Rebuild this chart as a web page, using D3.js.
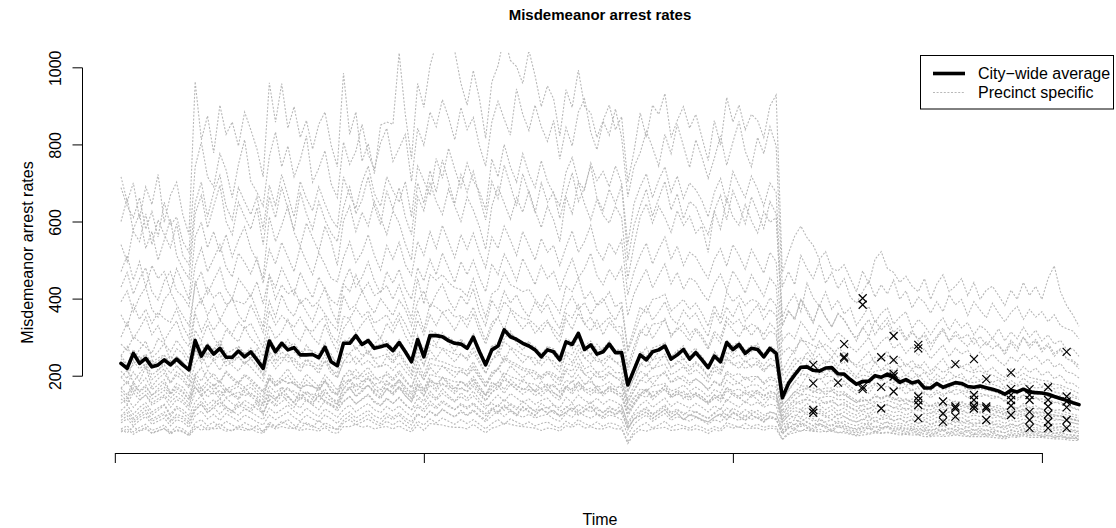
<!DOCTYPE html>
<html>
<head>
<meta charset="utf-8">
<script src="https://cdn.jsdelivr.net/npm/d3@7"></script>
<style>
  html, body { margin: 0; padding: 0; background: #ffffff; }
  svg { display: block; }
  text { font-family: "Liberation Sans", Arial, Helvetica, sans-serif; }
</style>
</head>
<body>
<svg id="chart" width="1116" height="528"></svg>
<script>
// Monthly misdemeanor arrest rates, Jan 2006 - Dec 2018 (one row per year)
const cityAverage = [
  232, 219, 258, 232, 245, 223, 228, 241, 228, 243, 228, 215,
  291, 251, 277, 256, 271, 248, 248, 264, 249, 262, 241, 219,
  290, 262, 284, 267, 273, 254, 254, 255, 247, 274, 236, 226,
  284, 284, 304, 281, 291, 271, 275, 280, 265, 286, 262, 236,
  294, 249, 304, 304, 301, 291, 284, 282, 271, 300, 262, 228,
  267, 277, 319, 301, 294, 284, 277, 267, 249, 267, 262, 241,
  288, 281, 310, 268, 280, 256, 262, 282, 260, 260, 176, 215,
  254, 241, 262, 267, 277, 243, 254, 268, 243, 260, 241, 221,
  251, 236, 286, 268, 281, 258, 271, 268, 249, 271, 258, 143,
  180, 202, 222, 223, 214, 212, 220, 221, 205, 204, 190, 178,
  185, 186, 200, 196, 204, 196, 183, 190, 181, 186, 168, 168,
  180, 170, 176, 182, 180, 172, 170, 173, 169, 165, 160, 152,
  162, 158, 165, 158, 156, 155, 152, 146, 141, 136, 130, 125
];

const precinct01 = [
  716, 652, 700, 608, 690, 644, 722, 598, 668, 702, 618, 566,
  963, 812, 874, 778, 902, 826, 858, 796, 884, 838, 788, 716,
  960, 858, 958, 842, 898, 818, 862, 788, 852, 884, 798, 742,
  985, 826, 884, 756, 802, 724, 850, 858, 852, 1037, 878, 762,
  958, 896, 1004, 1062, 1094, 1118, 1042, 958, 902, 992, 918, 816,
  962, 1004, 1082, 1018, 1002, 958, 1044, 978, 898, 952, 918, 822,
  942, 896, 993, 898, 882, 818, 862, 902, 838, 872, 702, 782,
  882, 818, 902, 878, 932, 818, 862, 898, 842, 878, 818, 758,
  862, 798, 922, 858, 902, 838, 878, 862, 818, 900, 928, 468,
  518, 562, 588, 558, 538, 502, 522, 478, 472, 488, 452, 418,
  472, 438, 502, 522, 478, 468, 442, 458, 432, 418, 452, 398,
  438, 462, 418, 432, 452, 408, 442, 398, 422, 432, 408, 382,
  422, 398, 442, 408, 432, 398, 452, 485, 418, 382, 358, 328
];
const precinct02 = [
  688, 640, 610, 662, 580, 626, 560, 650, 590, 612, 548, 520,
  742, 806, 716, 690, 776, 734, 662, 748, 812, 704, 676, 640,
  768, 832, 742, 796, 716, 760, 822, 702, 738, 784, 698, 662,
  806, 748, 782, 852, 774, 736, 804, 842, 756, 790, 826, 704,
  842, 798, 884, 846, 916, 870, 812, 896, 838, 870, 796, 744,
  858, 912, 866, 824, 944, 878, 836, 902, 846, 808, 862, 762,
  844, 796, 884, 918, 832, 786, 860, 824, 892, 818, 664, 742,
  778, 834, 792, 744, 826, 776, 852, 796, 740, 812, 766, 712,
  764, 822, 746, 806, 860, 782, 742, 818, 776, 846, 796, 430,
  470, 436, 512, 478, 452, 496, 440, 468, 426, 452, 404, 388,
  418, 446, 404, 436, 412, 448, 398, 420, 376, 404, 390, 362,
  392, 366, 410, 384, 398, 356, 392, 370, 350, 388, 362, 340,
  364, 380, 346, 372, 352, 366, 340, 358, 330, 322, 316, 296
];
const precinct03 = [
  600, 660, 574, 548, 620, 540, 604, 566, 532, 594, 512, 488,
  648, 702, 612, 676, 720, 640, 604, 688, 652, 618, 664, 580,
  694, 640, 722, 668, 612, 704, 660, 628, 690, 646, 608, 584,
  716, 668, 634, 702, 744, 672, 640, 716, 680, 650, 704, 612,
  744, 706, 668, 764, 712, 790, 736, 688, 752, 706, 678, 630,
  762, 716, 800, 742, 702, 776, 724, 688, 758, 704, 672, 640,
  728, 766, 704, 682, 752, 706, 730, 690, 744, 700, 540, 646,
  690, 724, 662, 708, 742, 676, 718, 660, 700, 682, 654, 612,
  676, 712, 648, 730, 694, 662, 718, 684, 640, 700, 676, 352,
  388, 412, 366, 440, 402, 380, 418, 372, 396, 360, 376, 330,
  354, 380, 338, 362, 376, 334, 352, 366, 322, 346, 330, 306,
  332, 350, 318, 346, 324, 338, 306, 330, 318, 296, 322, 290,
  314, 296, 326, 300, 318, 290, 306, 282, 292, 268, 270, 250
];
const precinct04 = [
  470, 512, 448, 496, 430, 486, 452, 470, 420, 478, 440, 398,
  560, 598, 532, 574, 520, 566, 508, 552, 586, 530, 498, 452,
  612, 548, 590, 640, 572, 536, 596, 558, 522, 588, 548, 486,
  602, 640, 574, 624, 588, 652, 610, 566, 628, 596, 542, 500,
  664, 628, 702, 652, 618, 684, 640, 600, 664, 630, 586, 528,
  640, 690, 648, 606, 662, 624, 680, 628, 584, 640, 604, 548,
  664, 620, 702, 646, 604, 658, 616, 596, 640, 610, 452, 538,
  612, 646, 596, 640, 610, 572, 628, 590, 614, 570, 588, 520,
  628, 580, 660, 612, 590, 644, 602, 570, 626, 598, 610, 330,
  366, 348, 398, 372, 340, 384, 352, 328, 360, 346, 318, 290,
  326, 302, 344, 318, 336, 300, 318, 290, 312, 296, 304, 268,
  298, 318, 288, 306, 290, 276, 300, 272, 288, 270, 282, 254,
  286, 264, 300, 272, 290, 262, 278, 250, 268, 244, 236, 218
];
const precinct05 = [
  430, 468, 412, 452, 480, 418, 396, 446, 470, 420, 406, 380,
  486, 532, 470, 504, 540, 482, 456, 518, 494, 464, 506, 440,
  528, 490, 546, 508, 470, 534, 496, 462, 520, 488, 452, 444,
  506, 548, 494, 520, 566, 512, 474, 538, 502, 546, 488, 460,
  548, 512, 574, 530, 590, 548, 506, 566, 528, 570, 520, 480,
  560, 530, 588, 552, 512, 574, 538, 500, 556, 520, 538, 486,
  534, 576, 520, 548, 590, 526, 500, 544, 516, 552, 410, 470,
  512, 544, 490, 528, 560, 502, 536, 486, 520, 508, 478, 452,
  502, 530, 484, 540, 512, 476, 528, 498, 466, 520, 496, 290,
  312, 296, 340, 318, 290, 332, 306, 286, 312, 298, 274, 262,
  280, 300, 266, 288, 302, 270, 284, 258, 276, 252, 270, 244,
  262, 280, 250, 272, 256, 266, 244, 262, 240, 256, 238, 226,
  250, 236, 258, 240, 252, 230, 244, 222, 232, 210, 206, 194
];
const precinct06 = [
  392, 420, 366, 404, 430, 372, 352, 398, 418, 384, 356, 330,
  436, 470, 412, 448, 480, 424, 400, 452, 430, 406, 444, 386,
  462, 428, 480, 446, 410, 468, 432, 402, 456, 424, 396, 384,
  442, 478, 430, 456, 496, 446, 414, 470, 440, 476, 426, 398,
  480, 446, 502, 462, 518, 480, 442, 496, 462, 500, 454, 418,
  490, 462, 516, 484, 446, 504, 470, 436, 486, 452, 470, 424,
  466, 504, 454, 478, 518, 460, 436, 476, 450, 482, 356, 412,
  446, 476, 428, 460, 490, 438, 468, 424, 454, 444, 416, 394,
  438, 464, 422, 472, 446, 414, 462, 434, 406, 454, 432, 256,
  274, 258, 298, 278, 252, 290, 266, 248, 272, 260, 238, 228,
  244, 262, 232, 250, 264, 236, 248, 224, 240, 218, 236, 212,
  228, 244, 218, 238, 222, 232, 212, 228, 208, 222, 206, 196,
  218, 204, 224, 208, 220, 200, 212, 192, 202, 182, 180, 168
];
const precinct07 = [
  540, 496, 580, 620, 530, 574, 500, 552, 606, 512, 478, 452,
  620, 668, 584, 640, 694, 600, 566, 650, 612, 580, 636, 540,
  664, 610, 690, 632, 578, 676, 620, 580, 652, 604, 570, 548,
  636, 690, 620, 656, 716, 640, 592, 680, 632, 688, 612, 566,
  700, 648, 732, 676, 760, 702, 646, 722, 676, 730, 664, 604,
  704, 660, 746, 694, 640, 724, 674, 622, 700, 650, 676, 608,
  672, 726, 652, 688, 744, 662, 628, 684, 646, 694, 500, 590,
  640, 684, 614, 660, 704, 630, 672, 608, 652, 638, 598, 566,
  628, 668, 604, 680, 640, 594, 664, 624, 582, 652, 620, 330,
  370, 344, 398, 364, 336, 384, 352, 326, 362, 344, 316, 298,
  324, 346, 306, 332, 350, 312, 328, 296, 318, 290, 312, 282,
  302, 324, 290, 316, 296, 308, 282, 302, 278, 298, 276, 262,
  292, 274, 300, 280, 294, 268, 284, 258, 270, 244, 240, 226
];
const precinct08 = [
  358, 326, 384, 346, 372, 336, 364, 348, 338, 374, 328, 298,
  446, 388, 428, 402, 418, 384, 396, 392, 386, 412, 368, 326,
  462, 398, 436, 412, 424, 388, 402, 378, 394, 428, 372, 338,
  438, 418, 462, 418, 442, 408, 418, 434, 398, 436, 392, 348,
  452, 386, 462, 448, 462, 442, 428, 424, 406, 452, 398, 352,
  412, 424, 468, 436, 428, 418, 424, 398, 378, 412, 388, 362,
  432, 418, 454, 398, 418, 382, 392, 418, 378, 392, 268, 322,
  378, 362, 398, 402, 412, 368, 382, 398, 372, 388, 362, 328,
  382, 348, 418, 392, 408, 382, 398, 392, 368, 402, 382, 212,
  242, 268, 292, 288, 278, 272, 282, 268, 248, 262, 238, 222,
  228, 232, 248, 242, 252, 238, 222, 232, 218, 228, 212, 202,
  222, 208, 218, 228, 222, 212, 208, 212, 204, 202, 194, 186,
  202, 194, 206, 196, 192, 188, 186, 178, 176, 168, 162, 154
];
const precinct09 = [
  300, 338, 296, 322, 352, 306, 330, 290, 318, 342, 296, 276,
  372, 400, 356, 386, 344, 376, 402, 358, 338, 384, 350, 312,
  394, 352, 410, 372, 354, 396, 366, 340, 384, 360, 336, 318,
  408, 372, 384, 420, 386, 362, 400, 378, 356, 396, 372, 330,
  392, 420, 376, 412, 438, 396, 370, 408, 384, 426, 364, 330,
  396, 368, 420, 388, 410, 374, 352, 392, 364, 386, 348, 322,
  380, 406, 372, 390, 358, 384, 402, 366, 344, 380, 262, 306,
  352, 380, 344, 366, 392, 350, 334, 370, 348, 362, 330, 302,
  366, 334, 378, 352, 388, 342, 364, 384, 346, 372, 356, 200,
  218, 246, 232, 262, 240, 256, 230, 248, 226, 236, 214, 198,
  222, 206, 236, 214, 232, 210, 224, 200, 216, 196, 210, 186,
  204, 190, 212, 196, 206, 184, 200, 188, 196, 182, 190, 170,
  188, 176, 194, 180, 186, 172, 180, 166, 170, 156, 150, 142
];
const precinct10 = [
  282, 266, 302, 288, 274, 258, 296, 284, 262, 292, 270, 244,
  362, 314, 348, 318, 344, 326, 308, 340, 322, 336, 304, 272,
  368, 332, 356, 340, 326, 352, 322, 314, 338, 354, 306, 286,
  354, 348, 376, 352, 368, 336, 346, 358, 330, 362, 334, 298,
  370, 318, 386, 378, 364, 372, 352, 356, 344, 378, 332, 292,
  338, 352, 392, 374, 360, 348, 346, 332, 314, 338, 322, 302,
  362, 350, 384, 334, 352, 322, 336, 352, 326, 328, 226, 276,
  318, 302, 334, 336, 344, 306, 318, 336, 306, 324, 304, 274,
  316, 298, 352, 334, 346, 318, 334, 326, 306, 336, 318, 176,
  206, 228, 246, 244, 236, 226, 238, 236, 218, 216, 206, 192,
  202, 198, 212, 214, 218, 202, 194, 202, 192, 204, 184, 178,
  192, 184, 188, 198, 194, 184, 182, 186, 178, 178, 172, 164,
  178, 172, 180, 172, 168, 170, 162, 158, 154, 148, 144, 138
];
const precinct11 = [
  252, 276, 240, 268, 290, 246, 262, 284, 238, 270, 258, 228,
  318, 290, 332, 298, 276, 320, 302, 288, 326, 296, 280, 250,
  330, 296, 314, 346, 308, 290, 326, 300, 282, 334, 294, 262,
  322, 346, 310, 334, 354, 318, 296, 336, 312, 346, 304, 276,
  344, 306, 358, 330, 364, 342, 318, 350, 326, 362, 316, 282,
  326, 352, 318, 370, 344, 322, 340, 310, 330, 344, 308, 286,
  348, 320, 362, 334, 316, 344, 306, 338, 320, 302, 214, 262,
  310, 334, 296, 322, 348, 300, 326, 312, 290, 318, 296, 268,
  306, 284, 340, 318, 300, 330, 304, 326, 292, 316, 306, 166,
  188, 214, 204, 232, 210, 222, 200, 218, 196, 206, 188, 176,
  192, 176, 204, 186, 198, 182, 192, 174, 186, 170, 180, 162,
  176, 166, 182, 170, 178, 160, 174, 164, 170, 158, 164, 150,
  164, 152, 168, 156, 162, 150, 156, 146, 148, 138, 132, 126
];
const precinct12 = [
  244, 226, 262, 240, 254, 230, 238, 252, 230, 250, 236, 214,
  296, 262, 284, 266, 282, 258, 266, 276, 256, 272, 250, 226,
  300, 270, 290, 276, 284, 262, 268, 264, 256, 286, 248, 236,
  292, 290, 310, 284, 298, 276, 282, 290, 270, 294, 268, 244,
  306, 258, 318, 310, 304, 300, 288, 290, 278, 310, 270, 236,
  274, 286, 326, 310, 298, 288, 282, 276, 256, 276, 270, 250,
  296, 288, 316, 278, 290, 266, 272, 288, 266, 268, 186, 224,
  262, 250, 272, 278, 284, 250, 262, 278, 250, 266, 250, 226,
  262, 244, 292, 278, 288, 266, 278, 276, 256, 278, 266, 148,
  180, 200, 218, 220, 210, 204, 214, 212, 198, 198, 186, 174,
  180, 180, 194, 190, 198, 188, 176, 184, 174, 182, 164, 162,
  174, 164, 168, 180, 174, 166, 162, 168, 162, 160, 154, 146,
  160, 154, 162, 154, 152, 152, 146, 142, 138, 132, 128, 122
];
const precinct13 = [
  236, 212, 228, 250, 220, 242, 214, 234, 252, 226, 210, 196,
  262, 284, 248, 270, 292, 254, 240, 276, 258, 244, 270, 220,
  284, 252, 272, 294, 262, 246, 280, 258, 240, 272, 256, 226,
  276, 300, 266, 288, 256, 282, 300, 268, 250, 284, 262, 234,
  292, 270, 304, 280, 312, 286, 262, 296, 274, 300, 258, 230,
  280, 262, 296, 316, 284, 266, 290, 262, 248, 276, 254, 236,
  290, 270, 300, 276, 254, 282, 264, 290, 262, 248, 178, 214,
  250, 274, 240, 262, 286, 248, 266, 242, 258, 272, 236, 216,
  262, 238, 280, 256, 274, 248, 262, 284, 246, 264, 252, 140,
  160, 184, 174, 200, 184, 194, 176, 190, 168, 180, 164, 152,
  170, 154, 178, 164, 174, 160, 170, 152, 166, 150, 158, 142,
  156, 146, 162, 150, 158, 142, 152, 146, 150, 140, 146, 132,
  146, 136, 150, 140, 144, 132, 140, 130, 132, 122, 118, 112
];
const precinct14 = [
  212, 192, 238, 218, 232, 202, 214, 228, 206, 226, 210, 188,
  268, 232, 256, 238, 252, 226, 234, 248, 230, 246, 222, 200,
  264, 238, 262, 248, 246, 228, 242, 236, 224, 254, 216, 206,
  256, 258, 276, 252, 264, 244, 250, 256, 238, 262, 236, 214,
  268, 226, 282, 274, 272, 264, 256, 254, 246, 274, 240, 206,
  242, 252, 288, 274, 266, 254, 248, 246, 226, 244, 238, 222,
  262, 254, 282, 246, 256, 236, 240, 254, 234, 236, 158, 196,
  232, 222, 242, 246, 252, 222, 232, 246, 222, 236, 222, 198,
  228, 216, 262, 246, 254, 234, 246, 244, 226, 246, 236, 132,
  164, 184, 202, 204, 196, 190, 198, 198, 186, 186, 172, 160,
  166, 168, 182, 176, 184, 176, 166, 172, 162, 168, 152, 150,
  162, 152, 156, 164, 162, 156, 152, 154, 150, 148, 144, 136,
  146, 142, 150, 142, 140, 140, 136, 132, 126, 122, 116, 110
];
const precinct15 = [
  196, 214, 184, 206, 226, 190, 204, 218, 182, 210, 198, 172,
  232, 256, 220, 240, 214, 246, 226, 212, 238, 222, 204, 186,
  244, 218, 236, 258, 228, 210, 242, 224, 206, 240, 218, 194,
  236, 258, 230, 246, 264, 238, 222, 250, 232, 256, 228, 204,
  252, 228, 266, 244, 270, 252, 236, 258, 240, 262, 232, 206,
  240, 264, 236, 272, 252, 234, 250, 228, 242, 252, 226, 210,
  256, 234, 266, 246, 232, 252, 226, 248, 236, 222, 160, 192,
  228, 246, 216, 236, 256, 220, 238, 228, 212, 232, 218, 196,
  224, 208, 248, 232, 218, 240, 222, 238, 214, 230, 224, 124,
  140, 160, 150, 172, 156, 166, 150, 164, 146, 154, 140, 130,
  144, 130, 152, 138, 148, 136, 144, 128, 140, 126, 134, 120,
  132, 124, 138, 128, 134, 120, 130, 124, 128, 118, 124, 112,
  124, 114, 128, 118, 122, 112, 118, 110, 112, 104, 100, 96
];
const precinct16 = [
  252, 228, 268, 244, 256, 234, 246, 254, 232, 250, 236, 214,
  272, 240, 262, 244, 256, 236, 240, 250, 232, 244, 226, 204,
  256, 232, 250, 236, 240, 222, 228, 226, 216, 238, 206, 196,
  236, 234, 250, 228, 240, 222, 224, 230, 214, 234, 212, 194,
  236, 200, 246, 240, 236, 230, 222, 220, 212, 236, 206, 180,
  206, 214, 244, 232, 224, 214, 210, 206, 190, 206, 200, 186,
  218, 212, 234, 204, 212, 196, 198, 210, 194, 194, 132, 162,
  190, 182, 198, 200, 206, 182, 190, 200, 182, 192, 180, 164,
  186, 176, 212, 200, 206, 190, 198, 198, 182, 198, 190, 108,
  134, 150, 164, 166, 160, 154, 160, 160, 150, 150, 140, 130,
  136, 136, 146, 142, 150, 142, 134, 140, 132, 136, 124, 122,
  130, 122, 126, 134, 130, 126, 122, 126, 122, 120, 116, 110,
  120, 116, 122, 116, 114, 114, 110, 106, 102, 98, 94, 90
];
const precinct17 = [
  150, 134, 168, 148, 160, 140, 150, 162, 142, 158, 146, 128,
  184, 158, 178, 164, 176, 156, 164, 172, 160, 170, 154, 138,
  196, 174, 190, 180, 184, 168, 176, 172, 166, 190, 160, 152,
  200, 200, 216, 196, 208, 190, 196, 202, 186, 206, 186, 168,
  222, 188, 232, 226, 224, 218, 210, 210, 202, 226, 198, 170,
  210, 218, 250, 238, 230, 220, 216, 212, 196, 212, 206, 192,
  232, 226, 250, 218, 226, 208, 212, 226, 208, 208, 140, 174,
  212, 202, 220, 224, 230, 202, 212, 224, 202, 216, 202, 182,
  214, 202, 244, 228, 236, 218, 228, 228, 210, 228, 220, 122,
  140, 158, 172, 174, 168, 162, 168, 168, 158, 158, 146, 136,
  134, 136, 146, 142, 148, 142, 134, 138, 130, 136, 122, 120,
  124, 118, 122, 128, 124, 120, 118, 120, 116, 114, 110, 104,
  112, 108, 114, 108, 106, 106, 102, 98, 96, 92, 88, 84
];
const precinct18 = [
  168, 186, 158, 176, 194, 164, 176, 190, 156, 180, 170, 148,
  200, 222, 188, 206, 184, 212, 196, 182, 204, 192, 176, 160,
  204, 182, 198, 218, 192, 176, 204, 188, 172, 202, 184, 162,
  196, 216, 190, 206, 222, 198, 184, 210, 192, 214, 190, 170,
  210, 190, 222, 204, 226, 210, 196, 216, 200, 218, 194, 172,
  198, 220, 196, 226, 210, 194, 208, 190, 200, 210, 188, 174,
  212, 194, 222, 204, 192, 210, 188, 206, 196, 184, 130, 160,
  188, 204, 178, 196, 212, 182, 198, 188, 176, 192, 180, 162,
  186, 172, 206, 192, 180, 198, 184, 198, 178, 190, 186, 104,
  118, 134, 126, 144, 130, 140, 126, 138, 122, 130, 118, 110,
  124, 112, 130, 118, 126, 116, 122, 110, 120, 108, 114, 102,
  114, 106, 118, 110, 114, 102, 110, 106, 110, 100, 106, 96,
  106, 98, 110, 100, 104, 96, 100, 94, 96, 88, 86, 82
];
const precinct19 = [
  160, 144, 178, 158, 170, 150, 160, 170, 152, 166, 156, 138,
  196, 168, 188, 174, 186, 166, 172, 182, 170, 180, 162, 146,
  194, 174, 190, 182, 180, 166, 176, 172, 164, 186, 158, 150,
  186, 186, 200, 184, 192, 178, 182, 186, 174, 190, 172, 156,
  194, 164, 204, 198, 196, 190, 184, 184, 178, 198, 174, 150,
  174, 182, 208, 198, 192, 184, 180, 178, 164, 178, 172, 160,
  188, 182, 202, 178, 184, 170, 174, 184, 170, 170, 112, 140,
  166, 160, 174, 176, 180, 160, 166, 176, 160, 170, 160, 144,
  164, 156, 188, 176, 182, 168, 176, 176, 162, 176, 170, 94,
  124, 138, 150, 152, 146, 142, 146, 146, 138, 138, 128, 120,
  124, 126, 134, 130, 136, 130, 124, 128, 120, 124, 112, 112,
  120, 112, 116, 122, 120, 116, 112, 114, 112, 110, 106, 100,
  110, 106, 112, 106, 104, 104, 100, 98, 94, 90, 86, 82
];
const precinct20 = [
  196, 178, 210, 186, 222, 172, 192, 206, 180, 202, 188, 168,
  206, 186, 214, 194, 182, 208, 190, 178, 200, 186, 172, 156,
  190, 172, 184, 200, 178, 166, 188, 174, 160, 186, 170, 150,
  176, 192, 170, 184, 198, 176, 164, 186, 170, 190, 168, 150,
  180, 164, 192, 176, 196, 182, 168, 186, 172, 188, 166, 148,
  166, 184, 164, 190, 176, 162, 174, 158, 168, 176, 156, 144,
  174, 160, 184, 168, 158, 174, 156, 170, 162, 152, 104, 130,
  152, 166, 144, 160, 174, 148, 162, 154, 142, 156, 146, 132,
  150, 140, 168, 156, 146, 162, 150, 162, 146, 156, 152, 86,
  104, 118, 112, 128, 116, 124, 112, 122, 108, 116, 104, 98,
  110, 100, 116, 106, 112, 104, 108, 98, 106, 96, 102, 92,
  102, 96, 106, 98, 102, 92, 98, 94, 98, 90, 94, 86,
  96, 88, 98, 90, 94, 86, 90, 84, 86, 80, 78, 74
];
const precinct21 = [
  140, 126, 156, 138, 150, 130, 140, 150, 132, 146, 136, 120,
  172, 146, 164, 152, 162, 144, 150, 158, 148, 156, 140, 126,
  174, 156, 170, 162, 160, 148, 156, 152, 146, 166, 140, 134,
  168, 168, 180, 166, 174, 160, 164, 168, 156, 172, 156, 140,
  176, 148, 186, 180, 178, 172, 166, 166, 160, 180, 158, 136,
  158, 166, 190, 180, 174, 166, 164, 162, 148, 162, 156, 146,
  170, 166, 184, 162, 168, 154, 158, 168, 154, 154, 100, 128,
  150, 144, 158, 160, 164, 146, 150, 160, 146, 154, 146, 130,
  150, 140, 170, 160, 166, 152, 160, 160, 148, 160, 154, 86,
  112, 124, 136, 138, 132, 128, 132, 132, 124, 124, 116, 108,
  112, 114, 122, 118, 124, 118, 112, 116, 110, 114, 102, 102,
  108, 102, 106, 110, 108, 104, 102, 104, 100, 98, 96, 90,
  100, 96, 102, 96, 94, 94, 90, 88, 86, 82, 78, 74
];
const precinct22 = [
  128, 142, 118, 136, 150, 124, 134, 146, 118, 138, 130, 112,
  154, 170, 144, 160, 140, 164, 150, 138, 158, 146, 134, 120,
  160, 142, 154, 170, 150, 136, 160, 146, 132, 158, 144, 126,
  154, 170, 148, 162, 176, 156, 144, 166, 150, 168, 148, 132,
  166, 148, 176, 160, 180, 166, 154, 170, 158, 172, 152, 134,
  156, 174, 154, 178, 166, 152, 164, 148, 158, 166, 146, 136,
  168, 152, 176, 160, 150, 166, 148, 162, 154, 144, 94, 124,
  146, 160, 138, 152, 166, 142, 154, 146, 136, 150, 140, 126,
  144, 132, 162, 150, 140, 156, 144, 156, 138, 148, 144, 80,
  96, 110, 104, 118, 106, 114, 102, 112, 98, 106, 96, 90,
  100, 92, 106, 96, 102, 94, 98, 90, 96, 86, 92, 84,
  92, 86, 96, 88, 92, 82, 88, 84, 88, 80, 84, 76,
  86, 80, 88, 82, 84, 78, 80, 74, 76, 70, 68, 64
];
const precinct23 = [
  96, 112, 90, 106, 120, 98, 110, 124, 94, 116, 104, 88,
  118, 134, 112, 126, 140, 118, 108, 132, 124, 114, 136, 104,
  140, 126, 150, 132, 118, 146, 136, 124, 154, 130, 122, 116,
  150, 168, 146, 158, 176, 152, 140, 166, 154, 172, 148, 132,
  176, 158, 188, 166, 196, 176, 160, 186, 170, 192, 166, 150,
  184, 170, 198, 178, 164, 192, 174, 160, 186, 168, 178, 156,
  170, 186, 160, 176, 192, 164, 152, 174, 162, 180, 118, 146,
  152, 166, 146, 158, 174, 148, 160, 140, 156, 150, 138, 130,
  140, 152, 132, 156, 144, 130, 150, 138, 124, 144, 136, 78,
  98, 90, 112, 100, 88, 108, 96, 86, 102, 94, 84, 80,
  86, 96, 80, 90, 98, 82, 90, 78, 88, 76, 86, 72,
  80, 88, 74, 84, 76, 82, 72, 80, 70, 78, 68, 66,
  74, 68, 78, 70, 76, 66, 72, 62, 68, 58, 58, 54
];
const precinct24 = [
  110, 124, 100, 118, 130, 106, 116, 126, 100, 120, 112, 96,
  132, 148, 124, 138, 120, 142, 128, 118, 136, 126, 114, 102,
  136, 120, 132, 146, 128, 116, 138, 124, 112, 136, 124, 108,
  132, 146, 126, 140, 152, 134, 124, 142, 128, 144, 126, 112,
  142, 126, 150, 136, 154, 142, 132, 146, 134, 148, 130, 114,
  134, 150, 132, 154, 142, 130, 140, 126, 136, 142, 124, 116,
  144, 130, 150, 136, 128, 142, 126, 138, 132, 122, 78, 104,
  124, 136, 118, 130, 142, 120, 132, 124, 116, 128, 118, 106,
  122, 112, 138, 128, 118, 134, 122, 132, 118, 126, 122, 70,
  86, 98, 92, 106, 94, 102, 92, 100, 88, 94, 86, 80,
  88, 82, 94, 86, 90, 84, 88, 80, 86, 76, 82, 74,
  82, 76, 86, 78, 82, 74, 78, 76, 78, 72, 76, 68,
  76, 70, 78, 72, 74, 68, 72, 66, 68, 62, 60, 56
];
const precinct25 = [
  168, 150, 184, 160, 176, 148, 166, 182, 154, 172, 160, 138,
  170, 152, 162, 180, 150, 166, 156, 142, 170, 150, 146, 128,
  150, 138, 156, 144, 130, 152, 140, 130, 148, 134, 126, 118,
  134, 146, 128, 138, 150, 130, 122, 140, 128, 142, 124, 112,
  124, 114, 134, 120, 136, 124, 112, 128, 118, 130, 114, 102,
  116, 106, 124, 112, 100, 120, 108, 98, 114, 104, 110, 96,
  104, 116, 98, 108, 120, 100, 94, 108, 98, 110, 66, 88,
  96, 106, 90, 100, 112, 92, 102, 86, 98, 94, 86, 80,
  92, 100, 86, 104, 94, 84, 98, 90, 80, 94, 88, 50,
  66, 60, 74, 66, 58, 72, 64, 56, 68, 62, 54, 52,
  56, 64, 52, 60, 66, 54, 60, 50, 58, 48, 56, 46,
  52, 58, 48, 56, 50, 54, 46, 52, 44, 50, 42, 40,
  48, 44, 52, 46, 50, 42, 46, 40, 44, 38, 38, 34
];
const precinct26 = [
  92, 104, 84, 98, 110, 88, 96, 106, 84, 100, 94, 80,
  112, 126, 104, 118, 100, 120, 108, 98, 114, 106, 96, 86,
  116, 102, 112, 124, 108, 98, 116, 104, 94, 114, 104, 92,
  112, 124, 106, 118, 128, 112, 104, 120, 108, 122, 106, 94,
  120, 106, 126, 114, 130, 120, 112, 124, 114, 126, 110, 96,
  112, 126, 110, 128, 118, 108, 118, 106, 114, 118, 104, 96,
  120, 108, 126, 114, 106, 118, 104, 116, 110, 102, 62, 88,
  104, 114, 98, 108, 120, 100, 110, 104, 96, 108, 98, 88,
  102, 94, 116, 106, 98, 112, 102, 110, 98, 106, 102, 58,
  74, 86, 80, 92, 82, 88, 80, 86, 76, 82, 74, 70,
  78, 72, 82, 76, 80, 74, 78, 70, 76, 68, 72, 66,
  72, 68, 76, 70, 72, 66, 70, 68, 70, 64, 68, 60,
  68, 62, 70, 64, 66, 60, 64, 58, 60, 56, 54, 50
];
const precinct27 = [
  84, 96, 78, 92, 102, 82, 90, 100, 80, 94, 88, 74,
  110, 126, 104, 118, 132, 112, 102, 124, 116, 106, 128, 98,
  150, 136, 168, 148, 130, 162, 152, 138, 172, 146, 134, 126,
  166, 186, 160, 174, 194, 166, 152, 180, 166, 186, 160, 142,
  148, 134, 160, 140, 166, 148, 134, 156, 142, 160, 138, 122,
  128, 118, 140, 124, 112, 134, 120, 108, 128, 116, 124, 108,
  116, 128, 108, 120, 132, 112, 104, 120, 110, 124, 74, 98,
  108, 118, 100, 112, 124, 104, 114, 98, 110, 106, 96, 90,
  104, 114, 96, 116, 106, 94, 110, 100, 90, 106, 100, 60,
  80, 72, 90, 80, 70, 86, 76, 68, 82, 74, 66, 62,
  70, 78, 64, 72, 80, 66, 72, 62, 70, 60, 68, 58,
  64, 72, 60, 68, 62, 66, 58, 64, 56, 62, 54, 52,
  60, 54, 64, 56, 62, 52, 58, 50, 54, 46, 46, 42
];
const precinct28 = [
  78, 88, 70, 84, 94, 74, 82, 90, 70, 86, 80, 66,
  96, 108, 88, 100, 84, 102, 92, 82, 98, 90, 80, 72,
  98, 86, 96, 106, 92, 82, 98, 88, 80, 98, 88, 76,
  96, 106, 90, 100, 110, 96, 88, 102, 92, 104, 90, 80,
  102, 90, 108, 98, 112, 102, 94, 106, 96, 108, 94, 80,
  96, 108, 94, 110, 100, 92, 100, 90, 96, 100, 88, 82,
  102, 92, 108, 96, 90, 100, 88, 98, 94, 86, 46, 74,
  88, 98, 82, 92, 102, 84, 94, 88, 82, 92, 84, 74,
  86, 80, 98, 90, 84, 96, 86, 94, 84, 90, 86, 48,
  64, 74, 68, 80, 70, 76, 68, 74, 66, 70, 64, 60,
  66, 62, 70, 64, 68, 62, 66, 60, 64, 58, 62, 56,
  62, 58, 64, 60, 62, 56, 60, 58, 60, 54, 58, 52,
  58, 54, 60, 56, 56, 52, 54, 50, 52, 48, 46, 44
];
const precinct29 = [
  54, 62, 48, 58, 66, 50, 56, 64, 48, 60, 56, 44,
  62, 72, 58, 66, 76, 62, 56, 70, 64, 58, 72, 54,
  74, 66, 82, 72, 62, 80, 74, 66, 84, 70, 64, 62,
  84, 96, 80, 88, 100, 84, 76, 94, 86, 98, 82, 72,
  100, 90, 108, 94, 114, 102, 92, 110, 98, 112, 96, 86,
  112, 102, 120, 108, 96, 118, 106, 96, 114, 102, 110, 94,
  106, 118, 98, 110, 122, 102, 94, 110, 100, 114, 60, 88,
  96, 106, 88, 100, 112, 92, 104, 86, 98, 94, 86, 80,
  92, 102, 86, 104, 94, 84, 98, 90, 80, 96, 88, 50,
  70, 64, 78, 70, 62, 76, 68, 60, 72, 66, 58, 56,
  62, 70, 56, 64, 70, 58, 64, 54, 62, 52, 60, 50,
  56, 62, 52, 60, 54, 58, 50, 56, 48, 54, 46, 44,
  52, 48, 56, 50, 54, 46, 50, 44, 48, 40, 42, 38
];
const precinct30 = [
  62, 70, 54, 66, 74, 58, 64, 72, 54, 68, 62, 50,
  78, 86, 70, 80, 66, 82, 72, 64, 78, 70, 62, 56,
  80, 68, 76, 86, 72, 64, 78, 70, 62, 78, 70, 58,
  78, 86, 72, 80, 88, 76, 70, 82, 72, 84, 72, 62,
  82, 72, 88, 78, 90, 82, 74, 86, 76, 86, 74, 62,
  76, 86, 74, 88, 80, 72, 80, 70, 76, 80, 70, 64,
  82, 72, 86, 76, 70, 80, 68, 78, 74, 66, 28, 56,
  70, 78, 64, 72, 82, 66, 74, 70, 64, 72, 66, 58,
  68, 62, 78, 72, 66, 76, 68, 74, 66, 70, 68, 36,
  52, 60, 56, 64, 56, 62, 54, 60, 52, 56, 50, 46,
  54, 50, 56, 52, 54, 50, 52, 48, 52, 46, 50, 44,
  50, 46, 52, 48, 50, 44, 48, 46, 48, 44, 46, 40,
  46, 44, 48, 44, 46, 42, 44, 40, 42, 38, 38, 36
];
const precinct31 = [
  60, 52, 68, 56, 62, 52, 58, 62, 52, 58, 54, 46,
  70, 58, 66, 62, 64, 56, 60, 62, 58, 62, 54, 50,
  70, 62, 68, 64, 64, 58, 62, 60, 56, 66, 54, 50,
  68, 68, 74, 66, 70, 62, 66, 68, 62, 70, 60, 54,
  72, 58, 76, 74, 72, 68, 66, 66, 62, 74, 62, 52,
  64, 68, 78, 74, 70, 68, 66, 64, 58, 64, 62, 56,
  70, 66, 76, 64, 68, 62, 62, 68, 62, 62, 24, 48,
  60, 56, 62, 64, 66, 58, 60, 64, 58, 62, 58, 50,
  60, 56, 70, 64, 68, 62, 64, 64, 58, 64, 62, 34,
  48, 52, 58, 58, 56, 54, 56, 56, 52, 52, 48, 44,
  46, 48, 52, 50, 52, 50, 46, 48, 46, 46, 42, 42,
  44, 42, 44, 46, 44, 42, 42, 42, 42, 40, 38, 36,
  42, 40, 44, 40, 40, 40, 38, 36, 36, 34, 32, 32
];

const precinctRates = [
  precinct01, precinct02, precinct03, precinct04, precinct05, precinct06, precinct07,
  precinct08, precinct09, precinct10, precinct11, precinct12, precinct13, precinct14,
  precinct15, precinct16, precinct17, precinct18, precinct19, precinct20, precinct21,
  precinct22, precinct23, precinct24, precinct25, precinct26, precinct27, precinct28,
  precinct29, precinct30, precinct31
];

// Flagged precinct-months (month index, rate)
const flaggedMonth = [
  113, 113, 113, 113, 117, 118, 118, 118, 121, 121, 121, 121,
  124, 124, 124, 126, 126, 126, 126, 126, 130, 130, 130, 130, 130, 130,
  134, 134, 134, 136, 136, 136, 136, 139, 139, 139, 139, 139,
  141, 141, 141, 141, 145, 145, 145, 145, 145, 145,
  148, 148, 148, 148, 148, 148, 151, 151, 151, 151, 151, 151,
  154, 154, 154, 154, 154, 154
];
const flaggedRate = [
  228, 180, 111, 104, 182, 249, 245, 282, 401, 384, 171, 165,
  248, 171, 115, 303, 241, 205, 198, 159, 280, 271, 146, 136, 124, 90,
  133, 102, 81, 230, 120, 115, 94, 243, 150, 137, 122, 115,
  191, 120, 115, 85, 208, 165, 150, 137, 122, 98,
  165, 150, 137, 106, 85, 64, 170, 137, 120, 100, 80, 64,
  262, 146, 133, 118, 85, 64
];

const yTicks = [200, 400, 600, 800, 1000];
const xTicks = [0, 50, 100, 150];
const chartTitle = "Misdemeanor arrest rates";
const yTitle = "Misdemeanor arrest rates";
const xTitle = "Time";
const legendLabels = ["City\u2212wide average", "Precinct specific"];

// ---- layout ----
const frame = { left: 83, right: 1116, top: 52, bottom: 453 };
const FONT = 16;
const GREY = "#b8b8b8";
const DOTS = "2 1.6";

const svg = d3.select("#chart");
svg.append("rect").attr("width", 1116).attr("height", 528).attr("fill", "#ffffff");

const x = d3.scaleLinear().domain([1, cityAverage.length]).range([121, 1079]);
const y = d3.scaleLinear().domain([0, 1040]).range([452.8, 51.9]);

svg.append("defs").append("clipPath").attr("id", "plot-clip")
  .append("rect")
  .attr("x", frame.left).attr("y", frame.top)
  .attr("width", frame.right - frame.left).attr("height", frame.bottom - frame.top);

const rateLine = d3.line().x((d, i) => x(i + 1)).y(d => y(d));

const plot = svg.append("g").attr("clip-path", "url(#plot-clip)");

// precinct series: thin grey dotted lines
plot.append("g").selectAll("path")
  .data(precinctRates)
  .join("path")
  .attr("d", rateLine)
  .attr("fill", "none")
  .attr("stroke", GREY)
  .attr("stroke-width", 1.1)
  .attr("stroke-dasharray", DOTS);

// city-wide average: heavy black line
plot.append("path")
  .datum(cityAverage)
  .attr("d", rateLine)
  .attr("fill", "none")
  .attr("stroke", "#000000")
  .attr("stroke-width", 3.6)
  .attr("stroke-linejoin", "round")
  .attr("stroke-linecap", "round");

// flagged points drawn as crosses
const cross = 4;
plot.append("g").selectAll("path")
  .data(d3.range(flaggedMonth.length))
  .join("path")
  .attr("transform", i => `translate(${x(flaggedMonth[i])},${y(flaggedRate[i])})`)
  .attr("d", `M${-cross},${-cross}L${cross},${cross}M${-cross},${cross}L${cross},${-cross}`)
  .attr("fill", "none")
  .attr("stroke", "#000000")
  .attr("stroke-width", 1.2);

// ---- axes ----
const xAxis = d3.axisBottom(x).tickValues(xTicks).tickSize(10).tickSizeOuter(0).tickFormat("");
const gx = svg.append("g")
  .attr("transform", `translate(0,${frame.bottom})`)
  .style("color", "#000")
  .call(xAxis);
gx.select(".domain").attr("d", `M${x(xTicks[0]) + 0.5},0.5H${x(xTicks[xTicks.length - 1]) + 0.5}`);

const yAxis = d3.axisLeft(y).tickValues(yTicks).tickSize(10).tickSizeOuter(0).tickFormat(d3.format("d"));
const gy = svg.append("g")
  .attr("transform", `translate(${frame.left},0)`)
  .style("color", "#000")
  .call(yAxis);
gy.select(".domain").attr("d", `M-0.5,${y(yTicks[0]) + 0.5}V${y(yTicks[yTicks.length - 1]) + 0.5}`);
gy.selectAll(".tick line").attr("x1", -0.5).attr("x2", -10.5);
gy.selectAll(".tick text")
  .attr("x", null).attr("dy", null)
  .attr("text-anchor", "middle")
  .attr("transform", `translate(${61 - frame.left},0.5) rotate(-90)`)
  .attr("font-size", FONT)
  .attr("font-family", "Liberation Sans, Arial, sans-serif")
  .attr("fill", "#000");

// ---- titles ----
svg.append("text")
  .attr("x", 600).attr("y", 20)
  .attr("text-anchor", "middle")
  .attr("font-weight", "bold")
  .attr("font-size", 15)
  .text(chartTitle);

svg.append("text")
  .attr("x", 600).attr("y", 524.5)
  .attr("text-anchor", "middle")
  .attr("font-size", FONT)
  .text(xTitle);

svg.append("text")
  .attr("transform", `translate(32.5,${(frame.top + frame.bottom) / 2}) rotate(-90)`)
  .attr("text-anchor", "middle")
  .attr("font-size", FONT)
  .text(yTitle);

// ---- legend ----
const legend = svg.append("g");
legend.append("rect")
  .attr("x", 920.5).attr("y", 55.5)
  .attr("width", 193).attr("height", 53.5)
  .attr("fill", "#ffffff")
  .attr("stroke", "#000000")
  .attr("stroke-width", 1);
const rowY = [73.5, 92.5];
legend.append("line")
  .attr("x1", 933).attr("x2", 965).attr("y1", rowY[0]).attr("y2", rowY[0])
  .attr("stroke", "#000").attr("stroke-width", 3.6);
legend.append("line")
  .attr("x1", 933).attr("x2", 965).attr("y1", rowY[1]).attr("y2", rowY[1])
  .attr("stroke", GREY).attr("stroke-width", 1.1).attr("stroke-dasharray", DOTS);
legend.selectAll("text.label")
  .data(legendLabels)
  .join("text")
  .attr("class", "label")
  .attr("x", 978)
  .attr("y", (d, i) => rowY[i] + 5.7)
  .attr("font-size", FONT)
  .text(d => d);
</script>
</body>
</html>
